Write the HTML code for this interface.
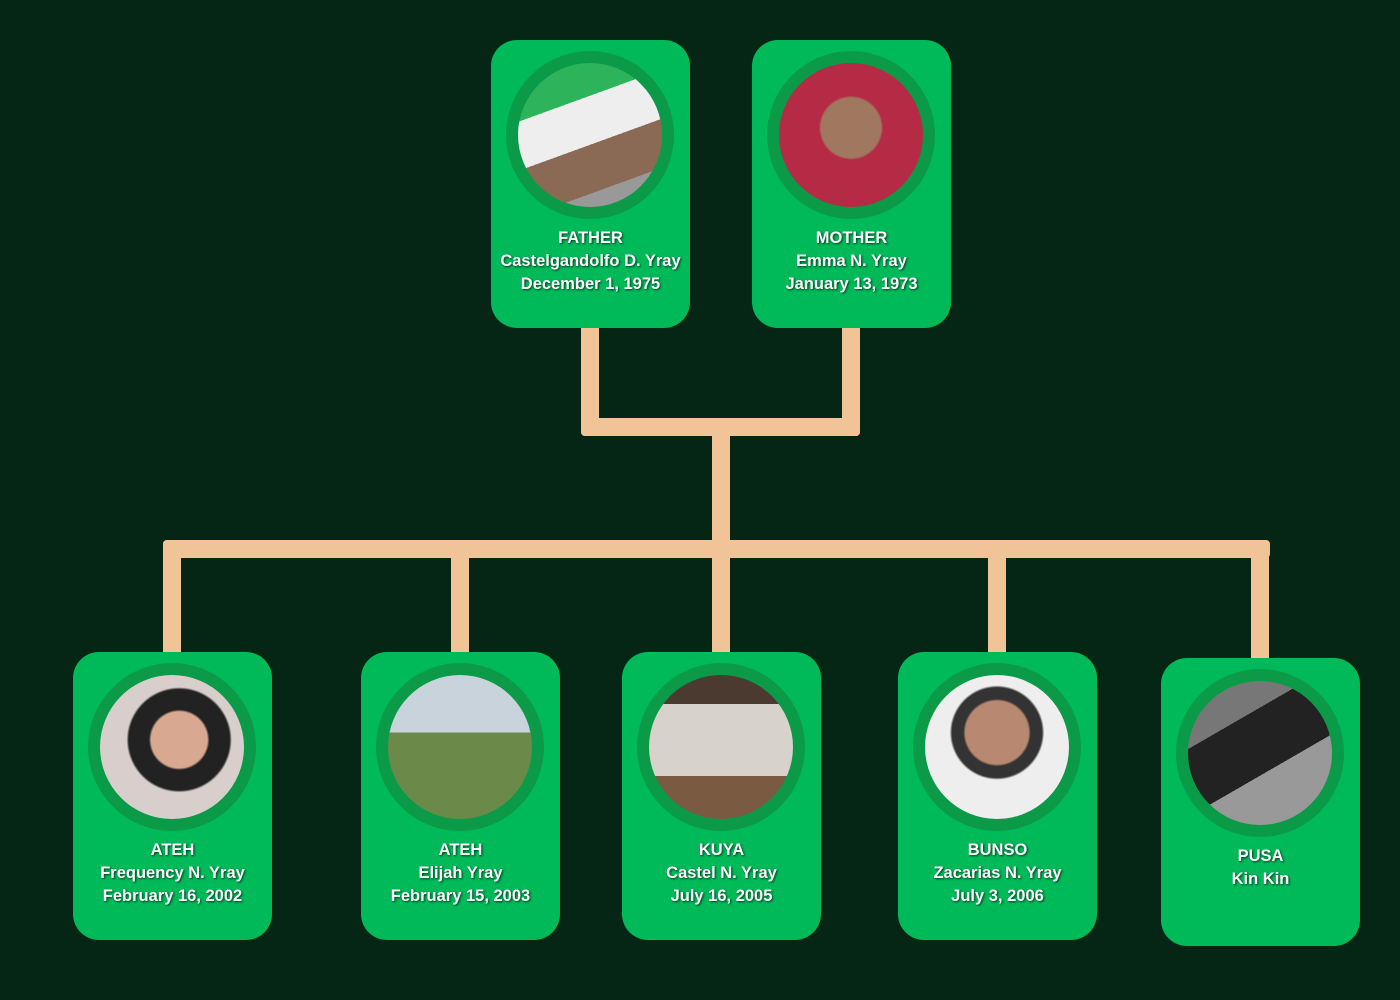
<!DOCTYPE html>
<html><head><meta charset="utf-8"><style>
body{margin:0;width:1400px;height:1000px;background:#052614;position:relative;overflow:hidden;font-family:"Liberation Sans",sans-serif}
.c{position:absolute;background:#00BA59;border-radius:26px;width:199px;height:288px}
.ring{position:absolute;left:15px;width:168px;height:168px;border-radius:50%;background:#0B9A48}
.ph{position:absolute;left:12px;top:12px;width:144px;height:144px;border-radius:50%;overflow:hidden}
.t{position:absolute;left:0;width:100%;text-align:center;color:#fff;font-weight:bold;font-size:16.5px;line-height:23px;text-shadow:1px 1px 2px rgba(0,0,0,.7)}
.l{position:absolute;background:#F0C497;border-radius:4px}
</style></head><body>
<div class="l" style="left:581px;top:320px;width:18px;height:116px"></div>
<div class="l" style="left:842px;top:320px;width:18px;height:116px"></div>
<div class="l" style="left:581px;top:418px;width:279px;height:18px"></div>
<div class="l" style="left:712px;top:418px;width:18px;height:140px"></div>
<div class="l" style="left:163px;top:540px;width:1107px;height:18px"></div>
<div class="l" style="left:163px;top:540px;width:18px;height:120px"></div>
<div class="l" style="left:451px;top:540px;width:18px;height:120px"></div>
<div class="l" style="left:712px;top:540px;width:18px;height:120px"></div>
<div class="l" style="left:988px;top:540px;width:18px;height:120px"></div>
<div class="l" style="left:1251px;top:540px;width:18px;height:125px"></div>

<div class="c" style="left:491px;top:40px"><div class="ring" style="top:11px"><div class="ph" style="background:linear-gradient(160deg,#2db35a 0 30%,#eee 30% 55%,#8a6a55 55% 80%,#999 80%)"></div></div>
<div class="t" style="top:187px">FATHER<br>Castelgandolfo D. Yray<br>December 1, 1975</div></div>
<div class="c" style="left:752px;top:40px"><div class="ring" style="top:11px"><div class="ph" style="background:radial-gradient(circle at 50% 45%,#a07860 0 28%,#b52a45 30%);"></div></div>
<div class="t" style="top:187px">MOTHER<br>Emma N. Yray<br>January 13, 1973</div></div>

<div class="c" style="left:73px;top:652px"><div class="ring" style="top:11px"><div class="ph" style="background:radial-gradient(circle at 55% 45%,#d9a890 0 25%,#222 27% 45%,#d8cfcc 47%)"></div></div>
<div class="t" style="top:187px">ATEH<br>Frequency N. Yray<br>February 16, 2002</div></div>
<div class="c" style="left:361px;top:652px"><div class="ring" style="top:11px"><div class="ph" style="background:linear-gradient(180deg,#c9d3dc 0 40%,#6b8a4a 40% 100%)"></div></div>
<div class="t" style="top:187px">ATEH<br>Elijah Yray<br>February 15, 2003</div></div>
<div class="c" style="left:622px;top:652px"><div class="ring" style="top:11px"><div class="ph" style="background:linear-gradient(180deg,#4a3a30 0 20%,#d8d2cc 20% 70%,#7a5a40 70%)"></div></div>
<div class="t" style="top:187px">KUYA<br>Castel N. Yray<br>July 16, 2005</div></div>
<div class="c" style="left:898px;top:652px"><div class="ring" style="top:11px"><div class="ph" style="background:radial-gradient(circle at 50% 40%,#b88870 0 28%,#333 30% 40%,#eee 42%)"></div></div>
<div class="t" style="top:187px">BUNSO<br>Zacarias N. Yray<br>July 3, 2006</div></div>
<div class="c" style="left:1161px;top:658px"><div class="ring" style="top:11px"><div class="ph" style="background:linear-gradient(150deg,#777 0 30%,#222 30% 60%,#999 60%)"></div></div>
<div class="t" style="top:187px">PUSA<br>Kin Kin</div></div>
</body></html>
